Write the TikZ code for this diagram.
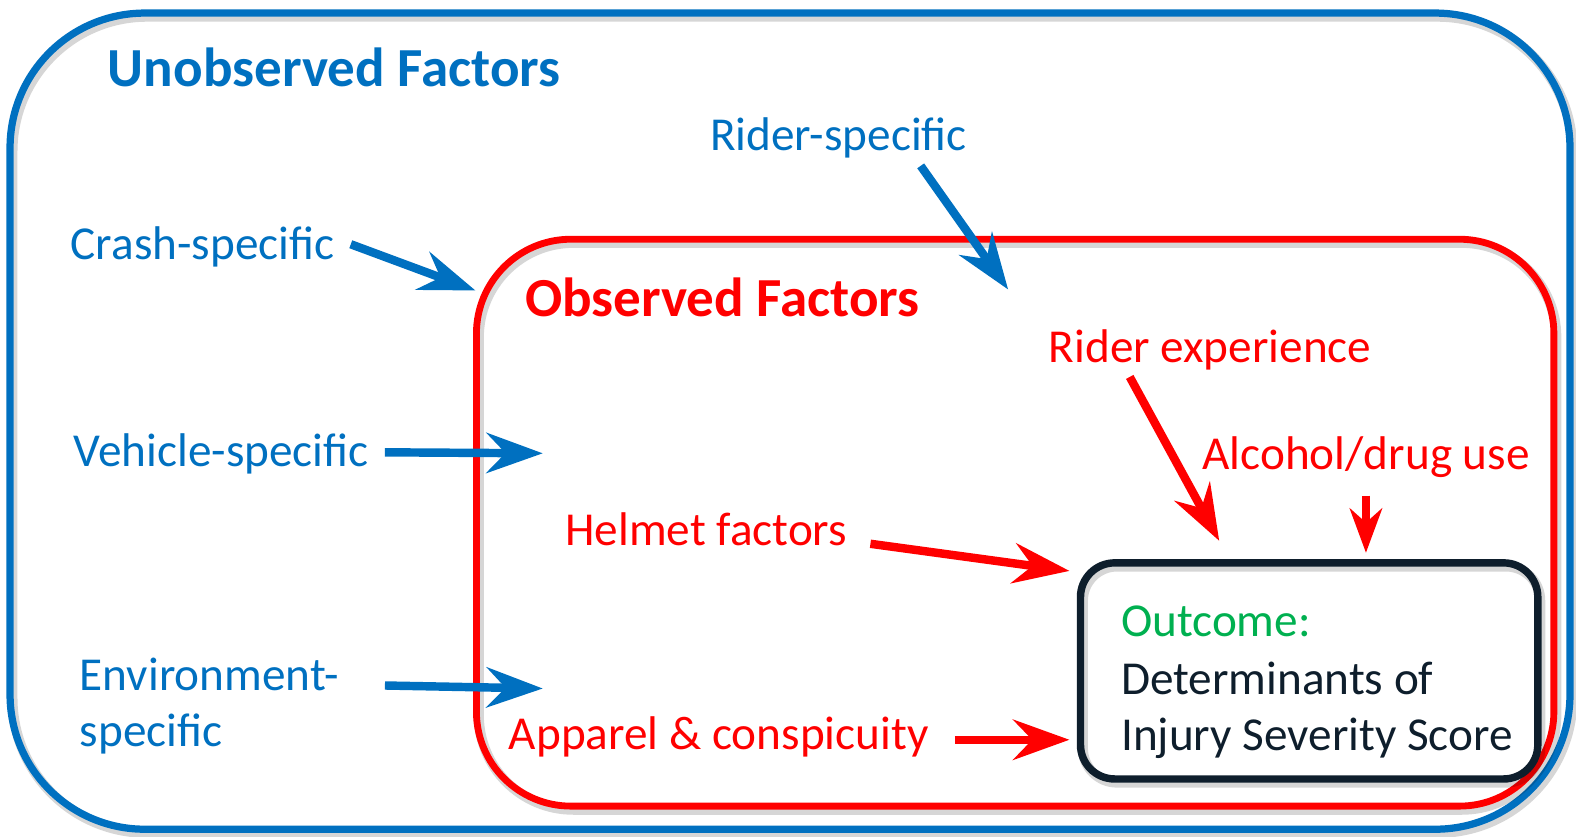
\documentclass[tikz,border=0pt]{standalone}
\usepackage{fontspec}
\setmainfont{Carlito}
\usetikzlibrary{arrows.meta,calc}
\definecolor{ublue}{HTML}{0070C0}
\definecolor{ored}{HTML}{FF0000}
\definecolor{ogreen}{HTML}{00B050}
\definecolor{odark}{HTML}{0E1E2C}
\tikzset{
  lbl/.style={anchor=base west, inner sep=0pt, align=left,
    font=\fontsize{23.5pt}{28pt}\selectfont},
  heading/.style={anchor=base west, inner sep=0pt,
    font=\fontsize{27.4pt}{32pt}\selectfont\bfseries},
  softshadow/.style={preaction={draw=black, draw opacity=0.16, line width=#1,
    transform canvas={shift={(1.2pt,-1.8pt)}}}},
  frame/.style={rounded corners=#1, inner sep=0pt},
  bluearrow/.style={draw=ublue, line width=4.2pt,
    -{Stealth[length=28pt,width=20pt,inset=9.5pt]}},
  redarrow/.style={draw=ored, line width=4.2pt,
    -{Stealth[length=28pt,width=20pt,inset=9.5pt]}},
  shortred/.style={draw=ored, line width=4.2pt,
    -{Stealth[length=22pt,width=16pt,inset=7pt]}},
}
\begin{document}
\begin{tikzpicture}[x=0.5pt,y=-0.5pt]
\useasboundingbox (0,0) rectangle (1568,832);

% containers
\node[frame=67pt, draw=ublue, line width=3.6pt, softshadow=5pt,
  minimum width=776pt, minimum height=406pt] (unobs) at (786,419) {};
\node[frame=47pt, draw=ored, line width=3.4pt, softshadow=5pt,
  minimum width=536pt, minimum height=282pt] (obs) at (1010,520) {};
\node[frame=17pt, draw=odark, line width=3.7pt, softshadow=5pt,
  minimum width=227.5pt, minimum height=107.5pt] (outcome) at (1302.5,667.5) {};

% headings
\node[heading, text=ublue] (unobsT) at (107,86) {Unobserved Factors};
\node[heading, text=ored] (obsT) at (522,315) {Observed Factors};

% unobserved factor labels
\node[lbl, text=ublue] (rider) at (706,150) {Rider-specific};
\node[lbl, text=ublue] (crash) at (70,258) {Crash-specific};
\node[lbl, text=ublue] (vehicle) at (73,464) {Vehicle-specific};
\node[lbl, text=ublue] (env) at (79,743) {Environment-\\specific};

% observed factor labels
\node[lbl, text=ored] (exper) at (1043,361) {Rider experience};
\node[lbl, text=ored] (alcohol) at (1196,467) {Alcohol/drug use};
\node[lbl, text=ored] (helmet) at (562,543) {Helmet factors};
\node[lbl, text=ored] (apparel) at (506,746) {Apparel \& conspicuity};

% outcome text
\node[lbl, text=ogreen] (outT) at (1115,633) {Outcome:};
\node[lbl, text=odark] (outD) at (1115,747) {Determinants of\\Injury Severity Score};

% arrow end points
\coordinate (crashS) at (349,243);   \coordinate (crashE) at (473,289);
\coordinate (riderS) at (916,165);   \coordinate (riderE) at (1003,288);
\coordinate (vehS) at (383,450);     \coordinate (vehE) at (540,451);
\coordinate (envS) at (383,682);     \coordinate (envE) at (540,685);
\coordinate (experS) at (1124,375);  \coordinate (experE) at (1213,538);
\coordinate (alcS) at (1359,493);    \coordinate (alcE) at (1359,550);
\coordinate (helmS) at (866,541);    \coordinate (helmE) at (1064,568);
\coordinate (appS) at (950,736);     \coordinate (appE) at (1064,736);

\draw[bluearrow] (crashS) -- (crashE);
\draw[bluearrow] (riderS) -- (riderE);
\draw[bluearrow] (vehS) -- (vehE);
\draw[bluearrow] (envS) -- (envE);
\draw[redarrow] (experS) -- (experE);
\draw[shortred] (alcS) -- (alcE);
\draw[redarrow] (helmS) -- (helmE);
\draw[redarrow] (appS) -- (appE);
\end{tikzpicture}
\end{document}
